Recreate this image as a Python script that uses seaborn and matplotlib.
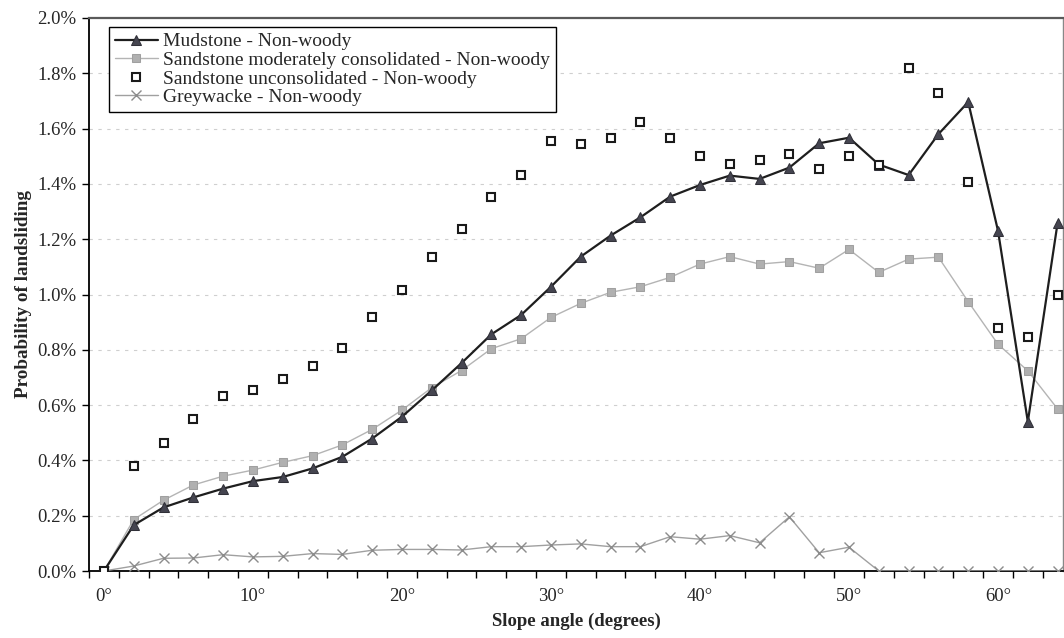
import numpy as np
import pandas as pd
import matplotlib
matplotlib.use("Agg")
import matplotlib.pyplot as plt
from matplotlib.ticker import FixedLocator, FuncFormatter
import seaborn as sns

# ---- data (probability of landsliding, %) ----
slope = [0, 2, 4, 6, 8, 10, 12, 14, 16, 18, 20, 22, 24, 26, 28, 30, 32,
         34, 36, 38, 40, 42, 44, 46, 48, 50, 52, 54, 56, 58, 60, 62, 64]

mudstone = [0.0, 0.166, 0.230, 0.266, 0.298, 0.325, 0.340, 0.371, 0.413, 0.479,
            0.558, 0.653, 0.752, 0.856, 0.926, 1.028, 1.137, 1.213, 1.279, 1.354,
            1.396, 1.430, 1.418, 1.459, 1.547, 1.567, 1.470, 1.432, 1.580, 1.696,
            1.230, 0.540, 1.260]

sand_mod = [0.0, 0.186, 0.256, 0.311, 0.343, 0.365, 0.393, 0.417, 0.456, 0.512,
            0.582, 0.663, 0.725, 0.804, 0.840, 0.917, 0.968, 1.008, 1.028, 1.062,
            1.110, 1.137, 1.110, 1.119, 1.095, 1.163, 1.080, 1.128, 1.135, 0.974,
            0.820, 0.724, 0.586]

sand_uncons = [0.0, 0.381, 0.464, 0.551, 0.632, 0.655, 0.694, 0.740, 0.806, 0.918,
               1.016, 1.137, 1.237, 1.352, 1.432, 1.556, 1.543, 1.567, 1.625, 1.565,
               1.501, 1.472, 1.485, 1.507, 1.454, 1.502, 1.470, 1.819, 1.728, 1.407,
               0.880, 0.845, 1.000]

greywacke = [0.0, 0.018, 0.046, 0.047, 0.059, 0.051, 0.053, 0.063, 0.060, 0.075,
             0.078, 0.078, 0.076, 0.088, 0.088, 0.094, 0.098, 0.088, 0.088, 0.124,
             0.115, 0.128, 0.102, 0.196, 0.066, 0.086, 0.0, 0.0, 0.0, 0.0,
             0.0, 0.0, 0.0]

series_names = ["Mudstone - Non-woody",
                "Sandstone moderately consolidated - Non-woody",
                "Sandstone unconsolidated - Non-woody",
                "Greywacke - Non-woody"]

x_tick_labels = ["0°", "10°", "20°", "30°", "40°", "50°", "60°"]
y_ticks = [0.0, 0.2, 0.4, 0.6, 0.8, 1.0, 1.2, 1.4, 1.6, 1.8, 2.0]

sns.set_theme(style="white")
plt.rcParams['font.family'] = ['Liberation Serif', 'DejaVu Serif']

fig = plt.figure(figsize=(10.64, 6.38), dpi=100)
ax = fig.add_axes([89 / 1064, 67 / 638, (1063 - 89) / 1064, (571 - 18) / 638])

sns.lineplot(x=slope, y=mudstone, ax=ax, color="#1e1e1e", lw=1.6,
             marker="^", markersize=7.5, markerfacecolor="#454550",
             markeredgecolor="#303038", label=series_names[0], zorder=5)
sns.lineplot(x=slope, y=sand_mod, ax=ax, color="#b4b4b4", lw=1.0,
             marker="s", markersize=6, markerfacecolor="#b0b0b0",
             markeredgecolor="#a0a0a0", label=series_names[1], zorder=4)
sns.lineplot(x=slope, y=sand_uncons, ax=ax, color="#222222", linestyle="none",
             marker="s", markersize=5.5, markerfacecolor="white",
             markeredgecolor="#1a1a1a", markeredgewidth=1.5,
             label=series_names[2], zorder=6)
sns.lineplot(x=slope, y=greywacke, ax=ax, color="#a0a0a0", lw=1.0,
             marker="x", markersize=7, markeredgecolor="#8c8c8c",
             markeredgewidth=1.0, label=series_names[3], zorder=3)

ax.set_xlim(-1, 64.36)
ax.set_ylim(0, 2.0)

# x ticks: labels at every 10 degrees, tick marks between categories
ax.xaxis.set_major_locator(FixedLocator([0, 10, 20, 30, 40, 50, 60]))
ax.set_xticklabels(x_tick_labels)
ax.tick_params(axis="x", which="major", length=0, pad=12, labelsize=13.5)
ax.xaxis.set_minor_locator(FixedLocator(np.arange(-1, 65, 2)))
ax.tick_params(axis="x", which="minor", length=5, width=1, color="black",
               direction="out", bottom=True)

ax.yaxis.set_major_locator(FixedLocator(y_ticks))
ax.yaxis.set_major_formatter(FuncFormatter(lambda v, p: f"{v:.1f}%"))
ax.tick_params(axis="y", which="major", length=5, width=1, color="black",
               direction="out", left=True, labelsize=13.5, pad=4)

ax.grid(False)
for yv in y_ticks[1:-1]:
    ax.axhline(yv, color="#cfcfcf", lw=0.8, linestyle=(0, (3, 5)), zorder=1)

for side in ["left", "bottom"]:
    ax.spines[side].set_color("black")
    ax.spines[side].set_linewidth(1.3)
ax.spines["top"].set_color("#5a5a5a")
ax.spines["top"].set_linewidth(1.6)
ax.spines["right"].set_color("#888888")
ax.spines["right"].set_linewidth(1.0)

ax.set_xlabel("Slope angle (degrees)", fontsize=13.5, fontweight="bold", labelpad=6)
ax.set_ylabel("Probability of landsliding", fontsize=13.8, fontweight="bold", labelpad=4)

leg = ax.legend(loc="upper left", bbox_to_anchor=((109 - 89) / 974, (571 - 27) / 553),
                borderaxespad=0, frameon=True, fancybox=False, fontsize=14,
                labelspacing=0.05, handlelength=2.2, handletextpad=0.3,
                borderpad=0.3, numpoints=1)
leg.get_frame().set_edgecolor("black")
leg.get_frame().set_linewidth(1.0)
leg.get_frame().set_facecolor("white")
leg.get_frame().set_alpha(1)

fig.savefig("out.png", dpi=100)
